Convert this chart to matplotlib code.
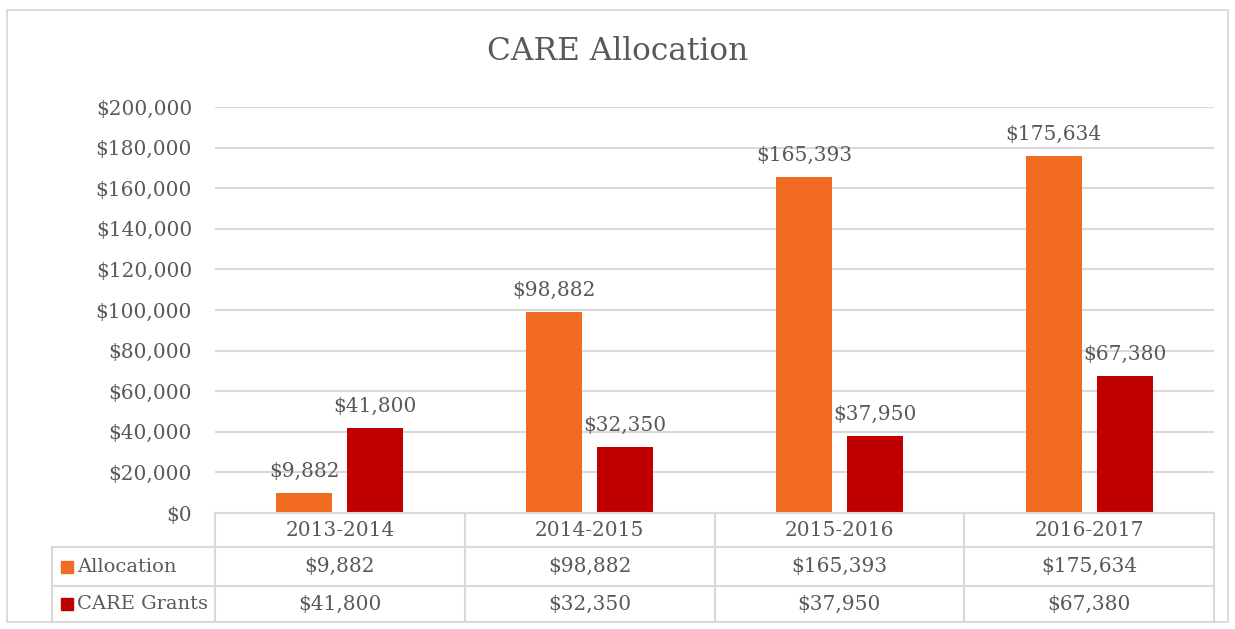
import matplotlib
matplotlib.use("Agg")
import matplotlib.pyplot as plt
from matplotlib.patches import Rectangle
from matplotlib.lines import Line2D
from matplotlib.ticker import FuncFormatter, MultipleLocator

categories = ["2013-2014", "2014-2015", "2015-2016", "2016-2017"]
series_names = ["Allocation", "CARE Grants"]
allocation = [9882, 98882, 165393, 175634]
care_grants = [41800, 32350, 37950, 67380]
colors = ["#F26B23", "#C00000"]

TXT = "#595959"
GRID = "#D9D9D9"
FS = 14.5
plt.rcParams['font.family'] = ['DejaVu Serif']

W, H = 1235, 629
fig = plt.figure(figsize=(W / 100, H / 100), dpi=100)

def fx(px): return px / W
def fy(py): return 1 - py / H

# outer border
fig.add_artist(Rectangle((fx(7), fy(622)), fx(1228) - fx(7), fy(10) - fy(622),
                         transform=fig.transFigure, fill=False, edgecolor=GRID, lw=1.3))

L, R, T, B = 215, 1214, 107, 513
ax = fig.add_axes([fx(L), fy(B), fx(R) - fx(L), fy(T) - fy(B)])

x = range(len(categories))
bw = 0.224
off = 0.142
series = [allocation, care_grants]
for si, (vals, c) in enumerate(zip(series, colors)):
    xs = [i + (-off if si == 0 else off) for i in x]
    ax.bar(xs, vals, width=bw, color=c, zorder=3)
    for xi, v in zip(xs, vals):
        ax.annotate(f"${v:,.0f}", (xi, v), xytext=(0, 9), textcoords="offset points",
                    ha="center", va="bottom", fontsize=FS, color=TXT)

ax.set_xlim(-0.5, len(categories) - 0.5)
ax.set_ylim(0, 200000)
ax.yaxis.set_major_locator(MultipleLocator(20000))
ax.yaxis.set_major_formatter(FuncFormatter(lambda v, p: f"${v:,.0f}"))
ax.grid(axis="y", color=GRID, lw=1.5, zorder=0)
ax.set_xticks([])
for s in ax.spines.values():
    s.set_visible(False)
ax.tick_params(axis="y", length=0, pad=16.5, labelsize=FS, labelcolor=TXT)

fig.text(0.5, fy(52), "CARE Allocation", ha="center", va="center", fontsize=22.5, color=TXT)

# data table
rows_y = [513, 547, 586, 622]
col_x = [L + (R - L) * i / len(categories) for i in range(len(categories) + 1)]
TL = 52
lk = dict(transform=fig.transFigure, color=GRID, lw=1.5)
fig.add_artist(Line2D([fx(L), fx(R)], [fy(513), fy(513)], **lk))
for yy in rows_y[1:]:
    fig.add_artist(Line2D([fx(TL), fx(R)], [fy(yy), fy(yy)], **lk))
for xx in col_x:
    fig.add_artist(Line2D([fx(xx), fx(xx)], [fy(513), fy(622)], **lk))
fig.add_artist(Line2D([fx(TL), fx(TL)], [fy(547), fy(622)], **lk))

for i, cat in enumerate(categories):
    cx = (col_x[i] + col_x[i + 1]) / 2
    fig.text(fx(cx), fy((rows_y[0] + rows_y[1]) / 2), cat, ha="center", va="center",
             fontsize=FS, color=TXT)
    for r, vals in enumerate(series):
        cy = (rows_y[r + 1] + rows_y[r + 2]) / 2
        fig.text(fx(cx), fy(cy), f"${vals[i]:,.0f}", ha="center", va="center",
                 fontsize=FS, color=TXT)

for r, (name, c) in enumerate(zip(series_names, colors)):
    cy = (rows_y[r + 1] + rows_y[r + 2]) / 2
    fig.add_artist(Rectangle((fx(61), fy(cy + 6)), fx(12), fy(cy - 6) - fy(cy + 6),
                             transform=fig.transFigure, color=c))
    fig.text(fx(77), fy(cy), name, ha="left", va="center", fontsize=14, color=TXT)

fig.savefig("out.png", dpi=100, facecolor="white")
